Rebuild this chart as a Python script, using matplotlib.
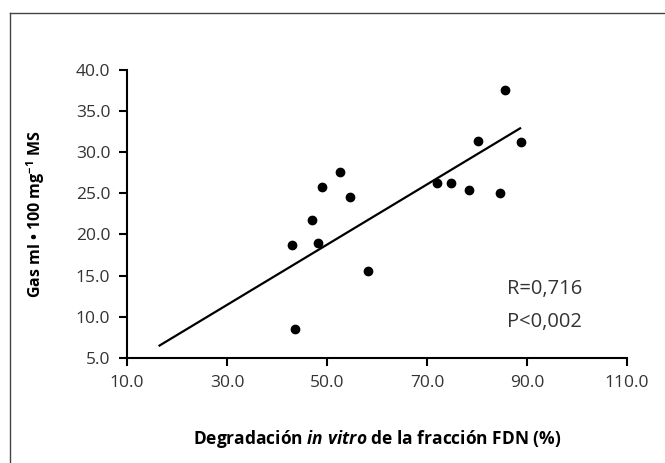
import matplotlib
matplotlib.use('Agg')
import matplotlib.pyplot as plt
from matplotlib.lines import Line2D
from matplotlib.ticker import MultipleLocator, FormatStrFormatter

plt.rcParams['font.family'] = ['Open Sans', 'DejaVu Sans']
plt.rcParams['mathtext.fontset'] = 'custom'
plt.rcParams['mathtext.rm'] = 'Open Sans:bold'
plt.rcParams['mathtext.it'] = 'Open Sans:italic:bold'
plt.rcParams['mathtext.bf'] = 'Open Sans:bold'

# Data
degradacion = [52.6, 48.9, 54.5, 46.9, 42.9, 48.1, 58.1, 43.6,
               85.6, 80.1, 88.8, 71.9, 74.8, 78.3, 84.6]
gas = [27.6, 25.8, 24.6, 21.8, 18.7, 19.0, 15.6, 8.5,
       37.5, 31.3, 31.2, 26.3, 26.3, 25.4, 25.1]

# regression line ends, as drawn
fit_x = [16.5, 88.6]
fit_y = [6.5, 32.9]

x_ticks = [10, 30, 50, 70, 90, 110]
stats_text = ['R=0,716', 'P<0,002']

fig = plt.figure(figsize=(6.65, 4.63), dpi=100)
ax = fig.add_axes([0.191, 0.227, 0.752, 0.622])

ax.plot(fit_x, fit_y, color='black', linewidth=1.6, zorder=2)
ax.scatter(degradacion, gas, s=36, color='black', zorder=3)

ax.set_xlim(10, 110)
ax.set_ylim(5, 40)
ax.set_xticks(x_ticks)
ax.yaxis.set_major_locator(MultipleLocator(5))
ax.xaxis.set_major_formatter(FormatStrFormatter('%.1f'))
ax.yaxis.set_major_formatter(FormatStrFormatter('%.1f'))

for side in ['top', 'right']:
    ax.spines[side].set_visible(False)
for side in ['left', 'bottom']:
    ax.spines[side].set_linewidth(1.5)
ax.tick_params(direction='out', length=6, width=1.5, labelsize=12.5,
               labelcolor='#333333', pad=6)

ax.set_xlabel(r'Degradación $\mathit{in\ vitro}$ de la fracción FDN (%)',
              fontsize=12.5, fontweight='bold', labelpad=27)
ax.set_ylabel(r'Gas ml • 100 mg$^{-1}$ MS', fontsize=11.5,
              fontweight='bold', labelpad=21)

ax.text(0.76, 0.222, stats_text[0], transform=ax.transAxes,
        fontsize=14.5, color='#333333')
ax.text(0.76, 0.107, stats_text[1], transform=ax.transAxes,
        fontsize=14.5, color='#333333')

# outer frame (left and top edges visible)
fig.add_artist(Line2D([10 / 665, 10 / 665], [0, 1 - 13 / 463],
                      transform=fig.transFigure, color='#444444', linewidth=1))
fig.add_artist(Line2D([10 / 665, 1], [1 - 13 / 463, 1 - 13 / 463],
                      transform=fig.transFigure, color='#444444', linewidth=1))

fig.savefig('out.png', dpi=100)
